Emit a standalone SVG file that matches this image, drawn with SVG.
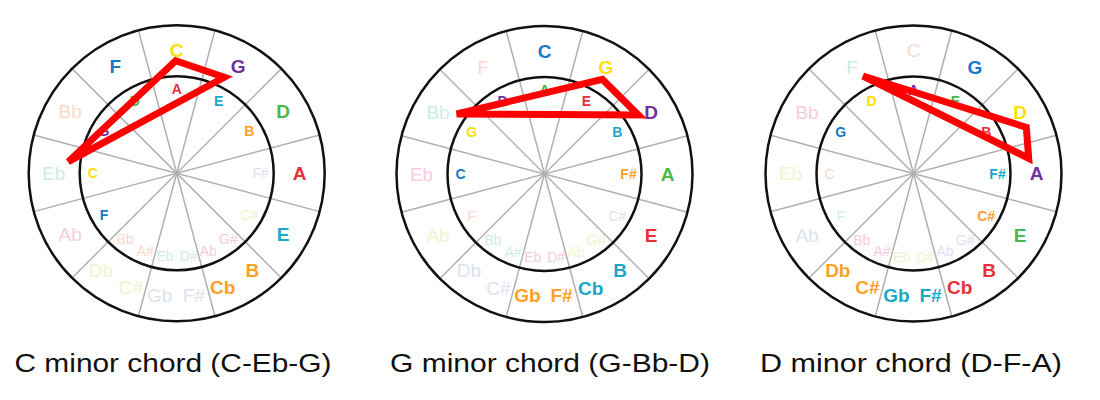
<svg xmlns="http://www.w3.org/2000/svg" width="1100" height="400" viewBox="0 0 1100 400">
<style>
text{font-family:"Liberation Sans",Arial,sans-serif;text-anchor:middle;dominant-baseline:central}
.o1{font-size:19px;font-weight:bold}
.i1{font-size:14px;font-weight:bold}
.y{fill:#ffe000}.p{fill:#7030a0}.g{fill:#4cb848}.r{fill:#e8303a}.c{fill:#18a8c8}.o{fill:#ffa028}.b{fill:#1878c8}
.fl{fill:#dce2f0;font-weight:normal}.fy{fill:#eef4cc;font-weight:normal}.fp{fill:#f8cce0;font-weight:normal}.ft{fill:#cceee0;font-weight:normal}.fs{fill:#fad8cc;font-weight:normal}
.sp{stroke:#b0b0b0;stroke-width:1.5}
.ring{fill:none;stroke:#111;stroke-width:2.5}
.tri{fill:none;stroke:#ff0000;stroke-width:7;stroke-linejoin:miter}
.cap{font-size:25px;fill:#111;dominant-baseline:auto}
</style>
<defs>
<g id="wheel">
<line class="sp" x1="38.3" y1="-143" x2="-38.3" y2="143"/>
<line class="sp" x1="104.7" y1="-104.7" x2="-104.7" y2="104.7"/>
<line class="sp" x1="143" y1="-38.3" x2="-143" y2="38.3"/>
<line class="sp" x1="143" y1="38.3" x2="-143" y2="-38.3"/>
<line class="sp" x1="104.7" y1="104.7" x2="-104.7" y2="-104.7"/>
<line class="sp" x1="38.3" y1="143" x2="-38.3" y2="-143"/>
<circle class="ring" r="148"/>
<circle class="ring" r="97"/>
</g>
</defs>
<g id="wheel-c" transform="translate(176.7,173.3)">
<use href="#wheel"/>
<g class="o1">
<text x="0" y="-123" class="y">C</text><text x="61.5" y="-106.5" class="p">G</text><text x="106.5" y="-61.5" class="g">D</text><text x="123" y="0" class="r">A</text><text x="106.5" y="61.5" class="c">E</text>
<text x="75.7" y="96.9" class="o">B</text><text x="46.1" y="114" class="o">Cb</text>
<text x="17.1" y="121.8" class="fl">F#</text><text x="-17.1" y="121.8" class="fl">Gb</text>
<text x="-46.1" y="114" class="fy">C#</text><text x="-75.7" y="96.9" class="fy">Db</text>
<text x="-106.5" y="61.5" class="fp">Ab</text><text x="-123" y="0" class="ft">Eb</text><text x="-106.5" y="-61.5" class="fs">Bb</text><text x="-61.5" y="-106.5" class="b">F</text>
</g>
<g class="i1">
<text x="0" y="-84" class="r">A</text><text x="42" y="-72.7" class="c">E</text><text x="72.7" y="-42" class="o">B</text><text x="84" y="0" class="fl">F#</text><text x="72.7" y="42" class="fy">C#</text>
<text x="51.7" y="66.2" class="fp">G#</text><text x="31.5" y="77.9" class="fp">Ab</text>
<text x="11.7" y="83.2" class="ft">D#</text><text x="-11.7" y="83.2" class="ft">Eb</text>
<text x="-31.5" y="77.9" class="fs">A#</text><text x="-51.7" y="66.2" class="fs">Bb</text>
<text x="-72.7" y="42" class="b">F</text><text x="-84" y="0" class="y">C</text><text x="-72.7" y="-42" class="p">G</text><text x="-42" y="-72.7" class="g">D</text>
</g>
</g>
<g id="wheel-g" transform="translate(544.5,174)">
<use href="#wheel"/>
<g class="o1">
<text x="0" y="-123" class="b">C</text><text x="61.5" y="-106.5" class="y">G</text><text x="106.5" y="-61.5" class="p">D</text><text x="123" y="0" class="g">A</text><text x="106.5" y="61.5" class="r">E</text>
<text x="75.7" y="96.9" class="c">B</text><text x="46.1" y="114" class="c">Cb</text>
<text x="17.1" y="121.8" class="o">F#</text><text x="-17.1" y="121.8" class="o">Gb</text>
<text x="-46.1" y="114" class="fl">C#</text><text x="-75.7" y="96.9" class="fl">Db</text>
<text x="-106.5" y="61.5" class="fy">Ab</text><text x="-123" y="0" class="fp">Eb</text><text x="-106.5" y="-61.5" class="ft">Bb</text><text x="-61.5" y="-106.5" class="fs">F</text>
</g>
<g class="i1">
<text x="0" y="-84" class="g">A</text><text x="42" y="-72.7" class="r">E</text><text x="72.7" y="-42" class="c">B</text><text x="84" y="0" class="o">F#</text><text x="72.7" y="42" class="fl">C#</text>
<text x="51.7" y="66.2" class="fy">G#</text><text x="31.5" y="77.9" class="fy">Ab</text>
<text x="11.7" y="83.2" class="fp">D#</text><text x="-11.7" y="83.2" class="fp">Eb</text>
<text x="-31.5" y="77.9" class="ft">A#</text><text x="-51.7" y="66.2" class="ft">Bb</text>
<text x="-72.7" y="42" class="fs">F</text><text x="-84" y="0" class="b">C</text><text x="-72.7" y="-42" class="y">G</text><text x="-42" y="-72.7" class="p">D</text>
</g>
</g>
<g id="wheel-d" transform="translate(913.5,173.5)">
<use href="#wheel"/>
<g class="o1">
<text x="0" y="-123" class="fs">C</text><text x="61.5" y="-106.5" class="b">G</text><text x="106.5" y="-61.5" class="y">D</text><text x="123" y="0" class="p">A</text><text x="106.5" y="61.5" class="g">E</text>
<text x="75.7" y="96.9" class="r">B</text><text x="46.1" y="114" class="r">Cb</text>
<text x="17.1" y="121.8" class="c">F#</text><text x="-17.1" y="121.8" class="c">Gb</text>
<text x="-46.1" y="114" class="o">C#</text><text x="-75.7" y="96.9" class="o">Db</text>
<text x="-106.5" y="61.5" class="fl">Ab</text><text x="-123" y="0" class="fy">Eb</text><text x="-106.5" y="-61.5" class="fp">Bb</text><text x="-61.5" y="-106.5" class="ft">F</text>
</g>
<g class="i1">
<text x="0" y="-84" class="p">A</text><text x="42" y="-72.7" class="g">E</text><text x="72.7" y="-42" class="r">B</text><text x="84" y="0" class="c">F#</text><text x="72.7" y="42" class="o">C#</text>
<text x="51.7" y="66.2" class="fl">G#</text><text x="31.5" y="77.9" class="fl">Ab</text>
<text x="11.7" y="83.2" class="fy">D#</text><text x="-11.7" y="83.2" class="fy">Eb</text>
<text x="-31.5" y="77.9" class="fp">A#</text><text x="-51.7" y="66.2" class="fp">Bb</text>
<text x="-72.7" y="42" class="ft">F</text><text x="-84" y="0" class="fs">C</text><text x="-72.7" y="-42" class="b">G</text><text x="-42" y="-72.7" class="y">D</text>
</g>
</g>
<g id="connectors">
<polygon class="tri" points="175.7,60.7 224.3,77.3 68.3,161.7"/>
<polygon class="tri" points="602.3,79.3 638.3,115 456.7,114"/>
<polygon class="tri" points="863,76 1026.3,127.3 1028.7,158.3"/>
</g>
<g id="captions">
<text class="cap" x="173" y="372" textLength="317" lengthAdjust="spacingAndGlyphs">C minor chord (C-Eb-G)</text>
<text class="cap" x="550" y="372" textLength="320" lengthAdjust="spacingAndGlyphs">G minor chord (G-Bb-D)</text>
<text class="cap" x="911" y="372" textLength="302" lengthAdjust="spacingAndGlyphs">D minor chord (D-F-A)</text>
</g>
</svg>
